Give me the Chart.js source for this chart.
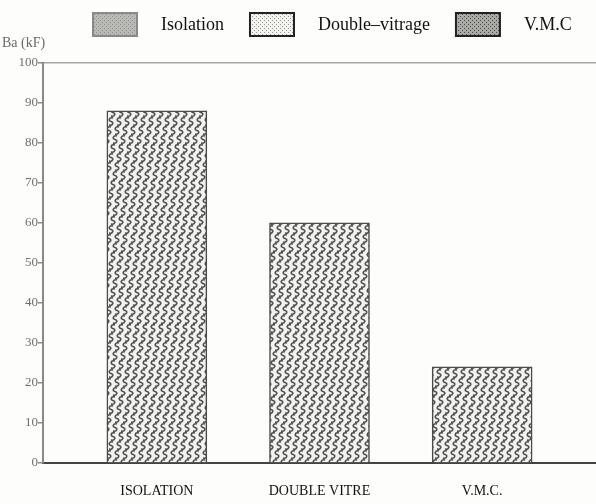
<!DOCTYPE html>
<html>
<head>
<meta charset="utf-8">
<script src="https://cdn.jsdelivr.net/npm/chart.js@4/dist/chart.umd.min.js"></script>
<style>
  html, body { margin: 0; padding: 0; background: #fdfdfb; }
</style>
</head>
<body>
<canvas id="myChart" width="596" height="504"></canvas>
<script>
// donnees
let categories = ["ISOLATION", "DOUBLE VITRE", "V.M.C."];
let series = ["Isolation", "Double\u2013vitrage", "V.M.C"];
let valeurs = [88, 60, 24];
let yTicks = [0, 10, 20, 30, 40, 50, 60, 70, 80, 90, 100];

// motif en "S" des barres, rangees decalees en diagonale
function motifS() {
  let c = document.createElement("canvas");
  c.width = 8; c.height = 36;
  let ctx = c.getContext("2d");
  ctx.fillStyle = "#f2f2ee";
  ctx.fillRect(0, 0, 8, 36);
  ctx.strokeStyle = "#4e4e4e";
  ctx.lineWidth = 1.6;
  function s(x, y) {
    ctx.beginPath();
    ctx.moveTo(x + 5, y + 1);
    ctx.bezierCurveTo(x + 1, y + 0, x + 0, y + 4, x + 3, y + 4.5);
    ctx.bezierCurveTo(x + 6, y + 5, x + 5, y + 9, x + 1, y + 8);
    ctx.stroke();
  }
  for (let r = 0; r < 4; r++) {
    let dx = (6 - r * 2 + 8) % 8;
    s(dx, r * 9);
    s(dx - 8, r * 9);
    s(dx + 8, r * 9);
  }
  return c;
}

// petits motifs pointilles de la legende
function motifPoints(fond, point, pas) {
  let c = document.createElement("canvas");
  c.width = pas * 2; c.height = pas * 2;
  let ctx = c.getContext("2d");
  ctx.fillStyle = fond;
  ctx.fillRect(0, 0, c.width, c.height);
  ctx.fillStyle = point;
  ctx.fillRect(0, 0, 1, 1);
  ctx.fillRect(pas, pas, 1, 1);
  return c;
}

let ctx0 = document.getElementById("myChart").getContext("2d");
let patBarre = ctx0.createPattern(motifS(), "repeat");
let patLegende = [
  ctx0.createPattern(motifPoints("#b9b9b6", "#8e8e8a", 2), "repeat"),
  ctx0.createPattern(motifPoints("#f2f2ee", "#9a9a96", 2), "repeat"),
  ctx0.createPattern(motifPoints("#a9a9a6", "#4a4a48", 2), "repeat")
];
let bordLegende = ["#8a8a88", "#222", "#222"];

// legende dessinee a la main (cases + textes)
const legendeMotifs = {
  id: "legendeMotifs",
  afterDraw(chart) {
    let ctx = chart.ctx;
    ctx.save();
    ctx.font = "18px 'Liberation Serif'";
    ctx.textBaseline = "middle";
    let x = 93;
    let y = 13;
    series.forEach((nom, i) => {
      ctx.fillStyle = patLegende[i];
      ctx.fillRect(x, y, 44, 23);
      ctx.strokeStyle = bordLegende[i];
      ctx.lineWidth = 2;
      ctx.strokeRect(x, y, 44, 23);
      x += 44 + 24;
      ctx.fillStyle = "#111";
      ctx.fillText(nom, x, y + 12);
      x += ctx.measureText(nom).width + 26;
    });
    ctx.restore();
  }
};

const datasets = series.map((nom, i) => ({
  label: nom,
  data: [{ x: i + 1, y: valeurs[i] }],
  backgroundColor: patBarre,
  borderColor: "#4a4a4a",
  borderWidth: 1.5,
  borderSkipped: "bottom",
  barThickness: 100,
  grouped: false
}));

const config = {
  type: "bar",
  data: { datasets },
  plugins: [legendeMotifs],
  options: {
    responsive: false,
    animation: false,
    layout: { padding: { top: 6, left: 2, right: 0, bottom: 0 } },
    plugins: {
      legend: { display: false },
      tooltip: { enabled: false },
      title: {
        display: true,
        text: "Ba (kF)",
        align: "start",
        color: "#6a6a6a",
        font: { family: "'Liberation Serif'", size: 14, weight: "normal" },
        padding: { top: 29, bottom: 11 }
      }
    },
    scales: {
      x: {
        type: "linear",
        offset: false,
        min: 0.3,
        max: 3.7,
        afterFit: (scale) => { scale.height = 41; },
        grid: { display: false },
        border: { color: "#444", width: 2 },
        ticks: {
          stepSize: 1,
          includeBounds: false,
          padding: 12,
          color: "#111",
          font: { family: "'Liberation Serif'", size: 14 },
          callback: (v) => categories[v - 1] || ""
        }
      },
      y: {
        min: 0,
        max: 100,
        afterFit: (scale) => { scale.width = 41; },
        afterBuildTicks: (scale) => { scale.ticks = yTicks.map((v) => ({ value: v })); },
        border: { color: "#8a8a8a", width: 2 },
        grid: {
          drawOnChartArea: true,
          tickLength: 5,
          tickColor: "#8a8a8a",
          color: (c) => (c.tick && c.tick.value === 100 ? "#a8a8a8" : "transparent"),
          lineWidth: 1.5
        },
        ticks: {
          padding: 0,
          color: "#6e6e6e",
          font: { family: "'Liberation Serif'", size: 13 }
        }
      }
    }
  }
};

var myChart = new Chart(document.getElementById("myChart"), config);
</script>
</body>
</html>
